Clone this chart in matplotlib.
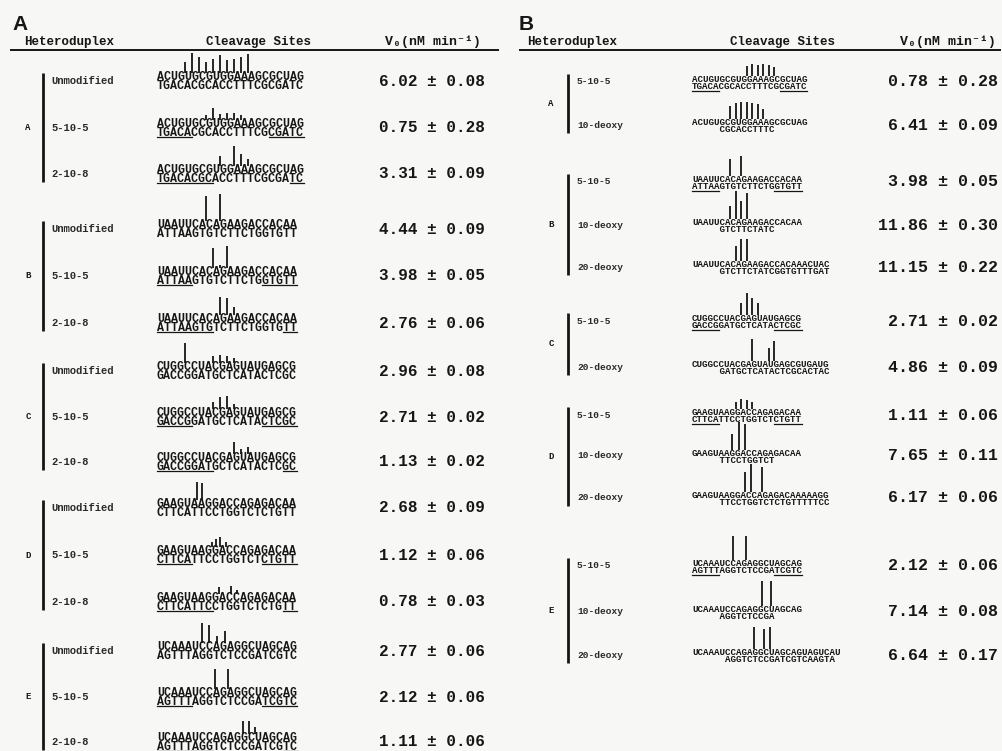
import matplotlib
matplotlib.use("Agg")
import matplotlib.pyplot as plt

# ---------------- data ----------------
# Panel A
a_group = ["A", "A", "A", "B", "B", "B", "C", "C", "C", "D", "D", "D", "E", "E", "E"]
a_label = ["Unmodified", "5-10-5", "2-10-8"] * 5
a_upper = ["ACUGUGCGUGGAAAGCGCUAG", "ACUGUGCGUGGAAAGCGCUAG", "ACUGUGCGUGGAAAGCGCUAG",
           "UAAUUCACAGAAGACCACAA", "UAAUUCACAGAAGACCACAA", "UAAUUCACAGAAGACCACAA",
           "CUGGCCUACGAGUAUGAGCG", "CUGGCCUACGAGUAUGAGCG", "CUGGCCUACGAGUAUGAGCG",
           "GAAGUAAGGACCAGAGACAA", "GAAGUAAGGACCAGAGACAA", "GAAGUAAGGACCAGAGACAA",
           "UCAAAUCCAGAGGCUAGCAG", "UCAAAUCCAGAGGCUAGCAG", "UCAAAUCCAGAGGCUAGCAG"]
a_lower = ["TGACACGCACCTTTCGCGATC", "TGACACGCACCTTTCGCGATC", "TGACACGCACCTTTCGCGATC",
           "ATTAAGTGTCTTCTGGTGTT", "ATTAAGTGTCTTCTGGTGTT", "ATTAAGTGTCTTCTGGTGTT",
           "GACCGGATGCTCATACTCGC", "GACCGGATGCTCATACTCGC", "GACCGGATGCTCATACTCGC",
           "CTTCATTCCTGGTCTCTGTT", "CTTCATTCCTGGTCTCTGTT", "CTTCATTCCTGGTCTCTGTT",
           "AGTTTAGGTCTCCGATCGTC", "AGTTTAGGTCTCCGATCGTC", "AGTTTAGGTCTCCGATCGTC"]
a_value = [6.02, 0.75, 3.31, 4.44, 3.98, 2.76, 2.96, 2.71, 1.13, 2.68, 1.12, 0.78, 2.77, 2.12, 1.11]
a_error = [0.08, 0.28, 0.09, 0.09, 0.05, 0.06, 0.08, 0.02, 0.02, 0.09, 0.06, 0.03, 0.06, 0.06, 0.06]
a_cut_pos = [[4, 5, 6, 7, 8, 9, 10, 11, 12, 13], [7, 8, 9, 10, 11, 12], [9, 11, 12, 13],
             [7, 9], [8, 9, 10], [9, 10, 11],
             [4, 8, 9, 10, 11], [8, 9, 10, 11], [11, 12, 13],
             [5.7, 6.4], [7.8, 8.5, 9.0, 9.9], [8.8, 10.6, 11.5],
             [6.5, 7.5, 8.6, 9.7], [8.3, 10.1], [12.3, 13.1, 14.0]]
a_cut_h = [[11, 20, 16, 11, 14, 18, 13, 14, 16, 19], [5, 12, 6, 7, 7, 5], [10, 20, 12, 7],
           [25, 27], [20, 3, 22], [18, 17, 8],
           [20, 7, 8, 7, 5], [7, 12, 13, 5], [12, 5, 7],
           [18, 17], [5, 8, 10, 5], [7, 8, 4],
           [20, 18, 7, 12], [20, 20], [13, 13, 7]]

# Panel B
b_group = ["A", "A", "B", "B", "B", "C", "C", "D", "D", "D", "E", "E", "E"]
b_label = ["5-10-5", "10-deoxy", "5-10-5", "10-deoxy", "20-deoxy", "5-10-5", "20-deoxy",
           "5-10-5", "10-deoxy", "20-deoxy", "5-10-5", "10-deoxy", "20-deoxy"]
b_upper = ["ACUGUGCGUGGAAAGCGCUAG", "ACUGUGCGUGGAAAGCGCUAG",
           "UAAUUCACAGAAGACCACAA", "UAAUUCACAGAAGACCACAA", "UAAUUCACAGAAGACCACAAACUAC",
           "CUGGCCUACGAGUAUGAGCG", "CUGGCCUACGAGUAUGAGCGUGAUG",
           "GAAGUAAGGACCAGAGACAA", "GAAGUAAGGACCAGAGACAA", "GAAGUAAGGACCAGAGACAAAAAGG",
           "UCAAAUCCAGAGGCUAGCAG", "UCAAAUCCAGAGGCUAGCAG", "UCAAAUCCAGAGGCUAGCAGUAGUCAU"]
b_lower = ["TGACACGCACCTTTCGCGATC", "CGCACCTTTC",
           "ATTAAGTGTCTTCTGGTGTT", "GTCTTCTATC", "GTCTTCTATCGGTGTTTGAT",
           "GACCGGATGCTCATACTCGC", "GATGCTCATACTCGCACTAC",
           "CTTCATTCCTGGTCTCTGTT", "TTCCTGGTCT", "TTCCTGGTCTCTGTTTTTCC",
           "AGTTTAGGTCTCCGATCGTC", "AGGTCTCCGA", "AGGTCTCCGATCGTCAAGTA"]
b_lower_off = [0, 5, 0, 5, 5, 0, 5, 0, 5, 5, 0, 5, 6]
b_value = [0.78, 6.41, 3.98, 11.86, 11.15, 2.71, 4.86, 1.11, 7.65, 6.17, 2.12, 7.14, 6.64]
b_error = [0.28, 0.09, 0.05, 0.30, 0.22, 0.02, 0.09, 0.06, 0.11, 0.06, 0.06, 0.08, 0.17]
b_cut_pos = [[10, 11, 12, 13, 14, 15], [7, 8, 9, 10, 11, 12, 13],
             [7, 9], [7, 8, 9, 10], [8, 9, 10],
             [9, 10, 11, 12], [11, 14, 15],
             [8, 9, 10, 11], [7.3, 8.5, 9.7], [9.7, 10.8, 12.8],
             [7.5, 9.9], [12.7, 14.3], [11.3, 13.1, 14.2]]
b_cut_h = [[10, 12, 11, 12, 11, 9], [13, 16, 17, 17, 16, 15, 10],
           [17, 20], [13, 28, 18, 26], [15, 22, 22],
           [12, 22, 17, 12], [22, 13, 20],
           [7, 10, 9, 7], [16, 28, 26], [20, 28, 25],
           [24, 24], [25, 25], [22, 20, 22]]

# 2'-O-methyl wing segments of the lower strand (left count, right count)
wings = {"5-10-5": (5, 5), "2-10-8": (8, 2)}

# ---------------- layout ----------------
W, H = 1003, 751
a_row_y = [81, 128, 174, 229, 276, 323, 371, 417, 462, 508, 555, 602, 651, 697, 742]
b_row_y = [82, 125, 182, 225, 267, 321, 367, 415, 456, 498, 566, 612, 655]

INK = "#161616"
MONO = ["Liberation Mono", "DejaVu Sans Mono"]

fig = plt.figure(figsize=(W / 100, H / 100), dpi=100)
fig.patch.set_facecolor("#f7f7f5")
ax = fig.add_axes([0, 0, 1, 1])
ax.set_xlim(0, W)
ax.set_ylim(H, 0)
ax.axis("off")


def pitch(fs):
    return 0.6 * fs * 100 / 72.0


def draw_panel(letter, lx, hdr, rows_y, groups, labels, uppers, lowers, low_off,
               values, errors, cut_pos, cut_h, gx, bx, labx, seqx, seq_fs, ls,
               valx, val_fs, lab_fs, line_x):
    ax.text(lx, 25, letter, fontsize=15, fontweight="bold", family="Liberation Sans",
            color=INK, ha="left", va="center")
    ax.text(hdr[0], 42, "Heteroduplex", fontsize=9, fontweight="bold", family=MONO,
            color=INK, ha="left", va="center")
    ax.text(hdr[1], 42, "Cleavage Sites", fontsize=9, fontweight="bold", family=MONO,
            color=INK, ha="center", va="center")
    ax.text(hdr[2], 42, "V\u2080(nM min\u207b\u00b9)", fontsize=9.5, fontweight="bold",
            family=MONO, color=INK, ha="center", va="center")
    ax.plot(line_x, [50, 50], color=INK, lw=1.4, solid_capstyle="butt")

    p = pitch(seq_fs)
    em = seq_fs * 100 / 72.0
    cap = 0.62 * em
    gap = ls * 1.02 * em

    order = []
    for g in groups:
        if g not in order:
            order.append(g)
    for g in order:
        idx = [i for i, gg in enumerate(groups) if gg == g]
        y0 = rows_y[idx[0]] - 8
        y1 = rows_y[idx[-1]] + 8
        ax.plot([bx, bx], [y0, y1], color=INK, lw=2.0, solid_capstyle="butt")
        ax.text(gx, (rows_y[idx[0]] + rows_y[idx[-1]]) / 2, g, fontsize=6.5,
                fontweight="bold", family=MONO, color=INK, ha="center", va="center")

    for i, y in enumerate(rows_y):
        ax.text(labx, y, labels[i], fontsize=lab_fs, fontweight="bold", family=MONO,
                color="#2a2a2a", ha="left", va="center")
        yb = y + 0.3           # baseline of the upper strand
        yl = yb + gap          # baseline of the lower strand (anchor of the text)
        duplex = uppers[i] + "\n" + " " * low_off[i] + lowers[i]
        ax.text(seqx, yl, duplex, fontsize=seq_fs, fontweight="bold", family=MONO,
                color=INK, ha="left", va="baseline", linespacing=ls)
        xl = seqx + low_off[i] * p
        if labels[i] in wings:
            nl, nr = wings[labels[i]]
            n = len(lowers[i])
            uy = yl + 1.6
            ax.plot([xl, xl + nl * p], [uy, uy], color=INK, lw=0.9)
            ax.plot([xl + (n - nr) * p, xl + n * p], [uy, uy], color=INK, lw=0.9)
        base = yb - cap - 0.6
        for pos, h in zip(cut_pos[i], cut_h[i]):
            xc = seqx + pos * p
            ax.plot([xc, xc], [base, base - h], color=INK, lw=1.3, solid_capstyle="butt")
        ax.text(valx, y, f"{values[i]:.2f} \u00b1 {errors[i]:.2f}", fontsize=val_fs,
                fontweight="bold", family=MONO, color=INK, ha="right", va="center")


draw_panel("A", 12, (24, 259, 433), a_row_y, a_group, a_label, a_upper, a_lower,
           [0] * len(a_upper), a_value, a_error, a_cut_pos, a_cut_h,
           gx=28, bx=43, labx=51, seqx=157, seq_fs=8.4, ls=0.62, valx=485, val_fs=11.5,
           lab_fs=7.6, line_x=[10, 499])

draw_panel("B", 519, (527, 783, 948), b_row_y, b_group, b_label, b_upper, b_lower,
           b_lower_off, b_value, b_error, b_cut_pos, b_cut_h,
           gx=551, bx=568, labx=577, seqx=692, seq_fs=6.6, ls=0.74, valx=998, val_fs=12,
           lab_fs=6.8, line_x=[519, 1001])

fig.savefig("out.png", dpi=100, facecolor=fig.get_facecolor())
